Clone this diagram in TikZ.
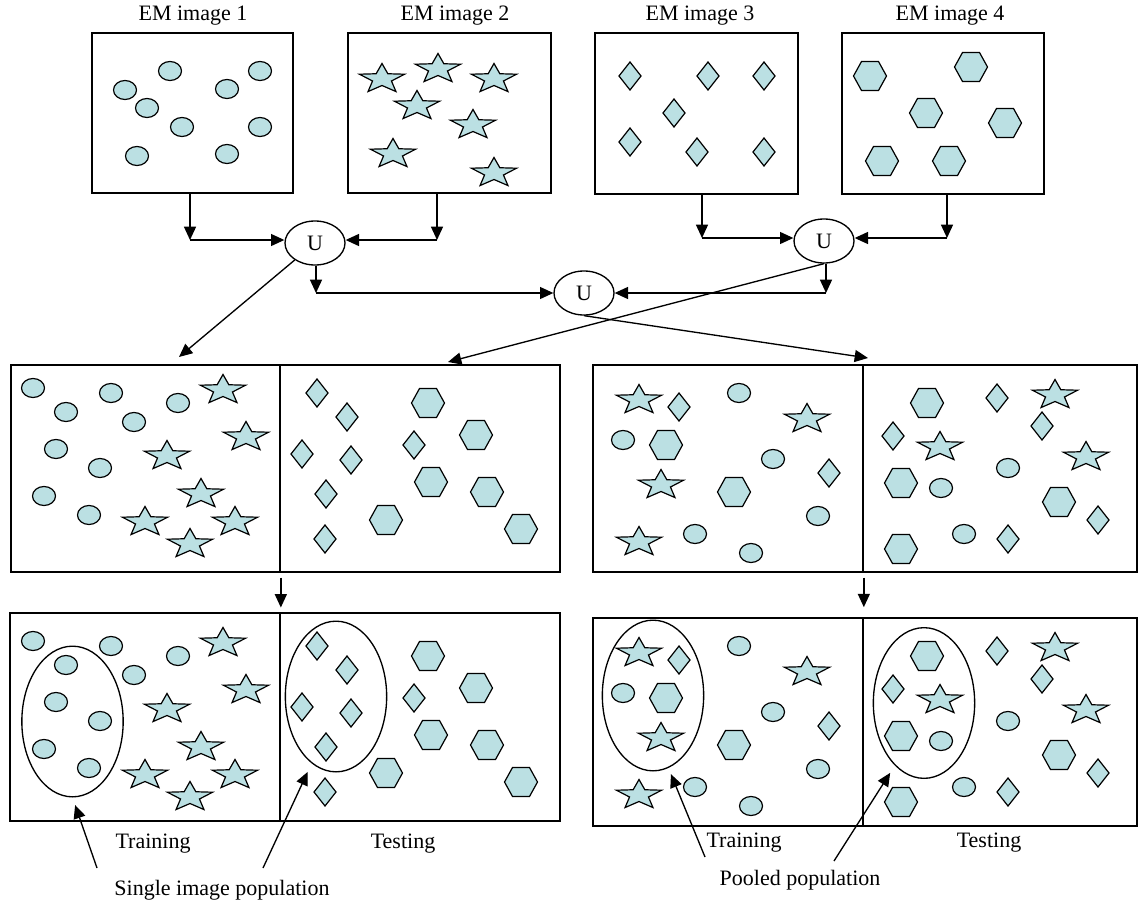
\documentclass[tikz,border=0pt]{standalone}
\usepackage{fontspec}
\setmainfont{Liberation Serif}
\usetikzlibrary{arrows.meta,fit,shapes.geometric}

\definecolor{cellfill}{RGB}{187,224,227}

\tikzset{
  panel/.style={draw, line width=1.25pt, inner sep=0pt},
  unite/.style={draw, ellipse, line width=1pt, inner sep=0pt,
    minimum width=45pt, minimum height=33pt, font=\fontsize{16.5}{19}\selectfont},
  group/.style={draw, ellipse, line width=1pt, inner sep=0pt,
    minimum width=76pt, minimum height=113pt},
  lbl/.style={inner sep=0pt, font=\fontsize{16.5}{19}\selectfont},
  arr/.style={-{Triangle[length=10pt,width=9pt]}, line width=1pt},
  shp/.style={draw, fill=cellfill, line width=0.9pt, line join=miter},
  pics/oval/.style={code={\draw[shp] (0,0) ellipse [x radius=11.5, y radius=9.5];}},
  pics/rhomb/.style={code={\draw[shp] (-11,0) -- (0,-14) -- (11,0) -- (0,14) -- cycle;}},
  pics/hexg/.style={code={\draw[shp] (-16.5,0) -- (-8.5,-14.5) -- (8.5,-14.5)
      -- (16.5,0) -- (8.5,14.5) -- (-8.5,14.5) -- cycle;}},
  pics/starp/.style={code={\draw[shp, xscale=1.53, yshift=-1.5] (-90:15.5) -- (-54:6.5)
      -- (-18:15.5) -- (18:6.5) -- (54:15.5) -- (90:6.5) -- (126:15.5)
      -- (162:6.5) -- (198:15.5) -- (234:6.5) -- cycle;}},
}

\begin{document}
\begin{tikzpicture}[x=0.75pt, y=-0.75pt]
  \useasboundingbox (0,0) rectangle (1138,903);

  % source images
  \node[panel, fit={(92,33) (293,193)}] (em1) {};
  \node[panel, fit={(348,33) (551,193)}] (em2) {};
  \node[panel, fit={(595,33) (798,194)}] (em3) {};
  \node[panel, fit={(842,33) (1044,194)}] (em4) {};
  \node[lbl] (t1) at (193,16) {EM image 1};
  \node[lbl] (t2) at (455,16) {EM image 2};
  \node[lbl] (t3) at (700,16) {EM image 3};
  \node[lbl] (t4) at (950,16) {EM image 4};

  \foreach \x/\y in {170/71, 125/90, 147/108, 182/127, 137/156,
                     260/71, 227/89, 260/127, 227/154}
    \pic at (\x,\y) {oval};
  \foreach \x/\y in {382/77, 438/67, 494/77, 417/104, 473/123, 393/152, 494/171}
    \pic at (\x,\y) {starp};
  \foreach \x/\y in {630/76, 708/76, 764/76, 674/113, 630/142, 697/152, 764/152}
    \pic at (\x,\y) {rhomb};
  \foreach \x/\y in {870/76, 971/67, 926/113, 1005/123, 882/161, 949/161}
    \pic at (\x,\y) {hexg};

  % unions
  \node[unite] (U1) at (315,243) {U};
  \node[unite] (U2) at (824,241) {U};
  \node[unite] (U3) at (584,293) {U};

  % training / testing sets
  \node[panel, fit={(11,365) (280,572)}] (train1) {};
  \node[panel, fit={(280,365) (560,572)}] (test1) {};
  \node[panel, fit={(593,365) (863,572)}] (train2) {};
  \node[panel, fit={(863,365) (1137,572)}] (test2) {};
  \node[panel, fit={(10,613) (280,821)}] (train3) {};
  \node[panel, fit={(280,613) (560,821)}] (test3) {};
  \node[panel, fit={(593,618) (863,826)}] (train4) {};
  \node[panel, fit={(863,618) (1137,826)}] (test4) {};

  \foreach \dy in {0,253} {
    \foreach \x/\y in {33/388, 66/412, 111/393, 134/422, 178/403,
                       56/449, 100/468, 44/496, 89/515}
      \pic at (\x,\y+\dy) {oval};
    \foreach \x/\y in {223/388, 246/435, 167/454, 201/492, 145/520, 235/520, 190/542}
      \pic at (\x,\y+\dy) {starp};
    \foreach \x/\y in {317/393, 347/417, 302/454, 351/460, 326/494, 414/445, 325/539}
      \pic at (\x,\y+\dy) {rhomb};
    \foreach \x/\y in {428/403, 476/435, 431/482, 487/492, 386/520, 521/529}
      \pic at (\x,\y+\dy) {hexg};
    % pooled
    \foreach \x/\y in {739/393, 623/440, 773/459, 818/516, 695/534, 751/553,
                       1008/468, 941/488, 964/534}
      \pic at (\x,\y+\dy) {oval};
    \foreach \x/\y in {639/398, 807/417, 661/483, 639/540, 940/445, 1055/393, 1086/455}
      \pic at (\x,\y+\dy) {starp};
    \foreach \x/\y in {679/407, 829/473, 893/436, 997/398, 1042/426, 1098/520, 1008/539}
      \pic at (\x,\y+\dy) {rhomb};
    \foreach \x/\y in {666/445, 734/492, 927/403, 901/483, 1059/502, 901/549}
      \pic at (\x,\y+\dy) {hexg};
  }

  \node[group] (g1) at (72.5,721.5) {};
  \node[group] (g2) at (336,696.5) {};
  \node[group] (g3) at (653,695.5) {};
  \node[group] (g4) at (924,703) {};

  \node[lbl] (l1) at (153,844) {Training};
  \node[lbl] (l2) at (403,844) {Testing};
  \node[lbl] (l3) at (222,890) {Single image population};
  \node[lbl] (l4) at (744,843) {Training};
  \node[lbl] (l5) at (989,843) {Testing};
  \node[lbl] (l6) at (800,880) {Pooled population};

  % connectors
  \coordinate (c1) at (190,240);
  \coordinate (c2) at (437,240);
  \coordinate (c3) at (702,238);
  \coordinate (c4) at (947,238);
  \coordinate (c5) at (316,293);
  \coordinate (c6) at (826,293);
  \coordinate (d1) at (179,357);
  \coordinate (d2) at (448,362);
  \coordinate (d3) at (868,358);
  \coordinate (p1) at (97,868);
  \coordinate (p2) at (263,868);
  \coordinate (p3) at (705,857);
  \coordinate (p4) at (834,861);
  \begin{scope}[arr]
    \draw (em1.south -| c1) -- (c1);
    \draw (c1) -- (c1 -| U1.west);
    \draw (em2.south -| c2) -- (c2);
    \draw (c2) -- (c2 -| U1.east);
    \draw (em3.south -| c3) -- (c3);
    \draw (c3) -- (c3 -| U2.west);
    \draw (em4.south -| c4) -- (c4);
    \draw (c4) -- (c4 -| U2.east);
    \draw (U1.south -| c5) -- (c5);
    \draw (c5) -- (c5 -| U3.west);
    \draw (U2.south -| c6) -- (c6);
    \draw (c6) -- (c6 -| U3.east);
    \draw (U1) -- (d1);
    \draw (U2.south) -- (d2);
    \draw (U3.south) -- (d3);
    \draw[shorten <=3.5pt, shorten >=3.5pt] (train1.south east) -- (train3.north east);
    \draw[shorten <=3.5pt, shorten >=7.5pt] (train2.south east) -- (train4.north east);
    \draw[shorten >=6pt] (p1) -- (g1.south);
    \draw[shorten >=7pt] (p2) -- (g2.250);
    \draw[shorten >=5pt] (p3) -- (g3.282);
    \draw[shorten >=6.5pt] (p4) -- (g4.245);
  \end{scope}
\end{tikzpicture}
\end{document}
